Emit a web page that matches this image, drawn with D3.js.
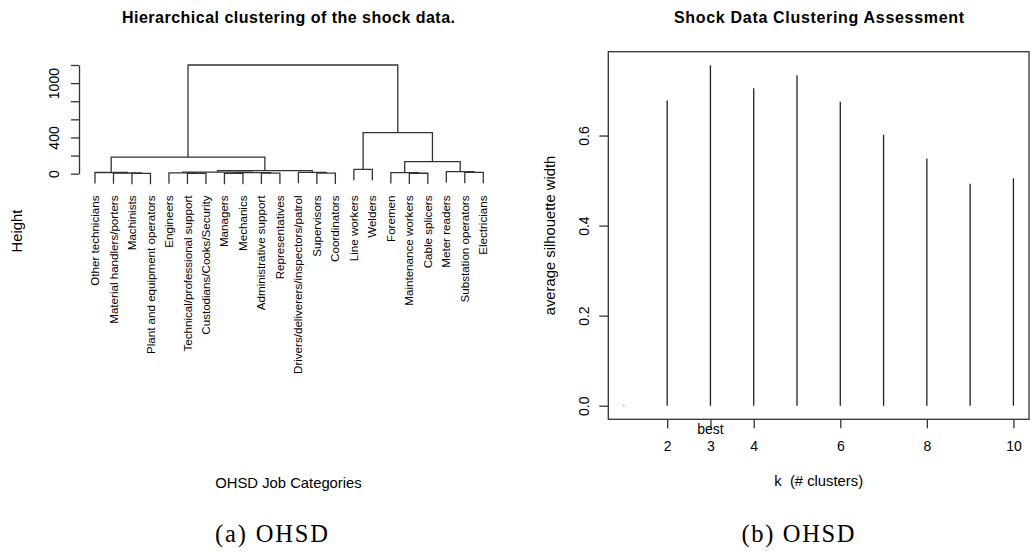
<!DOCTYPE html>
<html>
<head>
<meta charset="utf-8">
<script src="https://cdn.jsdelivr.net/npm/d3@7"></script>
<style>
  html, body { margin: 0; padding: 0; background: #fff; }
  svg { display: block; font-family: "Liberation Sans", Arial, Helvetica, sans-serif; }
</style>
</head>
<body>
<svg id="fig" width="1031" height="552"></svg>
<script>
// ---- Dendrogram data (leaves in plotted order) ----
const leafLabels = [
  "Other technicians", "Material handlers/porters", "Machinists",
  "Plant and equipment operators", "Engineers", "Technical/professional support",
  "Custodians/Cooks/Security", "Managers", "Mechanics", "Administrative support",
  "Representatives", "Drivers/deliverers/inspectors/patrol", "Supervisors",
  "Coordinators", "Line workers", "Welders", "Foremen", "Maintenance workers",
  "Cable splicers", "Meter readers", "Substation operators", "Electricians"
];
// hclust-style merge table: negative = leaf (1-based), positive = earlier merge step
const mergeLeft   = [-3, -2, -1, -6, -5, -8, -10, 6, 5, -13, -12, 9, 3, -15, -18, -17, -21, -20, 16, 14, 13];
const mergeRight  = [-4,  1,  2, -7,  4, -9, -11, 7, 8, -14,  10, 11, 12, -16, -19, 15, -22, 17, 18, 19, 20];
const mergeHeight = [4, 8, 13, 5, 9, 4, 6, 12, 18, 6, 14, 35, 184, 48, 5, 12, 14, 22, 133, 453, 1200];
const heightTicks = [0, 200, 400, 600, 800, 1000, 1200];
const heightTickLabels = [0, 400, 1000];

// ---- Silhouette assessment data ----
const kValues = [1, 2, 3, 4, 5, 6, 7, 8, 9, 10];
const avgSilWidth = [0, 0.678, 0.756, 0.705, 0.734, 0.675, 0.602, 0.549, 0.493, 0.505];
const kTicks = [2, 3, 4, 6, 8, 10];
const silTicks = [0, 0.2, 0.4, 0.6];
const bestK = 3;

const svg = d3.select("#fig");
const INK = "#333";
const AX_FS = 14;     // tick labels
const LAB_FS = 14.8;  // axis titles

// ================= Left panel: dendrogram =================
const left = svg.append("g");
const xL = d3.scaleLinear().domain([1, leafLabels.length]).range([95, 483.3]);
const yL = d3.scaleLinear().domain([0, 1200]).range([173.7, 65]);
const hang = 0.1 * d3.max(mergeHeight);

// position of every merge node
const nodeX = [];
function childX(c) { return c < 0 ? xL(-c) : nodeX[c - 1]; }
mergeLeft.forEach((l, i) => {
  nodeX[i] = (childX(l) + childX(mergeRight[i])) / 2;
});

const leafEnd = {};
mergeLeft.forEach((l, i) => {
  const r = mergeRight[i], h = mergeHeight[i];
  const bottom = c => c < 0 ? h - hang : mergeHeight[c - 1];
  if (l < 0) leafEnd[-l] = h - hang;
  if (r < 0) leafEnd[-r] = h - hang;
  const p = d3.path();
  p.moveTo(childX(l), yL(bottom(l)));
  p.lineTo(childX(l), yL(h));
  p.lineTo(childX(r), yL(h));
  p.lineTo(childX(r), yL(bottom(r)));
  left.append("path").attr("d", p.toString())
    .attr("fill", "none").attr("stroke", INK).attr("stroke-width", 1.3);
});

// leaf labels, rotated, ending just below the leaves
left.append("g").selectAll("text").data(leafLabels).join("text")
  .attr("transform", (d, i) => `translate(${xL(i + 1)},195.5) rotate(-90)`)
  .attr("dy", "0.35em")
  .attr("text-anchor", "end")
  .attr("font-size", 11.6)
  .attr("fill", "#000")
  .text(d => d);

// height axis
const axL = left.append("g").attr("transform", "translate(79,0)")
  .call(d3.axisLeft(yL).tickValues(heightTicks).tickSize(8).tickSizeOuter(0)
    .tickFormat(d => heightTickLabels.includes(d) ? d : ""));
axL.select(".domain").attr("stroke", INK).attr("stroke-width", 1.3);
axL.selectAll(".tick line").attr("stroke", INK).attr("stroke-width", 1.3);
axL.selectAll(".tick text")
  .attr("transform", "rotate(-90)").attr("x", 0).attr("y", -20).attr("dy", 0)
  .attr("text-anchor", "middle").attr("font-size", AX_FS).attr("fill", "#000")
  .attr("font-family", null);

left.append("text")
  .attr("transform", "translate(22,231) rotate(-90)")
  .attr("text-anchor", "middle").attr("font-size", LAB_FS).text("Height");
left.append("text")
  .attr("x", 288.5).attr("y", 488.3).attr("text-anchor", "middle")
  .attr("font-size", LAB_FS).text("OHSD Job Categories");
left.append("text")
  .attr("x", 288.5).attr("y", 22.7).attr("text-anchor", "middle")
  .attr("font-size", 16).attr("font-weight", "bold")
  .attr("textLength", 333).attr("lengthAdjust", "spacing")
  .text("Hierarchical clustering of the shock data.");

// ================= Right panel: silhouette widths =================
const right = svg.append("g");
const xR = d3.scaleLinear()
  .domain([kValues[0] - 0.04 * (kValues[kValues.length - 1] - kValues[0]),
           kValues[kValues.length - 1] + 0.04 * (kValues[kValues.length - 1] - kValues[0])])
  .range([608.3, 1029]);
const mSil = d3.max(avgSilWidth);
const yR = d3.scaleLinear().domain([-0.04 * mSil, 1.04 * mSil]).range([419.3, 51.7]);

// vertical "h"-type lines
right.append("g").selectAll("line").data(kValues).join("line")
  .attr("x1", d => xR(d)).attr("x2", d => xR(d))
  .attr("y1", yR(0)).attr("y2", (d, i) => yR(avgSilWidth[i]))
  .attr("stroke", (d, i) => avgSilWidth[i] === 0 ? "#999" : "#222")
  .attr("stroke-width", 1.3)
  .attr("stroke-linecap", (d, i) => avgSilWidth[i] === 0 ? "square" : "butt");

// plot box
right.append("rect")
  .attr("x", xR.range()[0]).attr("y", yR.range()[1])
  .attr("width", xR.range()[1] - xR.range()[0])
  .attr("height", yR.range()[0] - yR.range()[1])
  .attr("fill", "none").attr("stroke", INK).attr("stroke-width", 1.3);

// y axis
const axRY = right.append("g").attr("transform", `translate(${xR.range()[0]},0)`)
  .call(d3.axisLeft(yR).tickValues(silTicks).tickSize(9).tickFormat(d3.format(".1f")));
axRY.select(".domain").remove();
axRY.selectAll(".tick line").attr("stroke", INK).attr("stroke-width", 1.3);
axRY.selectAll(".tick text")
  .attr("transform", "rotate(-90)").attr("x", 0).attr("y", -19).attr("dy", 0)
  .attr("text-anchor", "middle").attr("font-size", AX_FS).attr("fill", "#000")
  .attr("font-family", null);

// x axis
const axRX = right.append("g").attr("transform", `translate(0,${yR.range()[0]})`)
  .call(d3.axisBottom(xR).tickValues(kTicks).tickSize(9).tickFormat(d3.format("d")));
axRX.select(".domain").remove();
axRX.selectAll(".tick line").attr("stroke", INK).attr("stroke-width", 1.3);
axRX.selectAll(".tick text")
  .attr("y", 32).attr("dy", 0).attr("font-size", AX_FS).attr("fill", "#000")
  .attr("font-family", null);

right.append("text")
  .attr("x", xR(bestK)).attr("y", 434).attr("text-anchor", "middle")
  .attr("font-size", AX_FS).text("best");

right.append("text")
  .attr("transform", "translate(555,235.5) rotate(-90)")
  .attr("text-anchor", "middle").attr("font-size", LAB_FS)
  .text("average silhouette width");
right.append("text")
  .attr("x", 818.7).attr("y", 486).attr("text-anchor", "middle")
  .attr("font-size", LAB_FS).style("white-space", "pre")
  .text("k  (# clusters)");
right.append("text")
  .attr("x", 819).attr("y", 23).attr("text-anchor", "middle")
  .attr("font-size", 16).attr("font-weight", "bold")
  .attr("textLength", 290).attr("lengthAdjust", "spacing")
  .text("Shock Data Clustering Assessment");

// ================= Sub-figure captions =================
const captions = [{t: "(a) OHSD", x: 271.5}, {t: "(b) OHSD", x: 798}];
svg.append("g").selectAll("text").data(captions).join("text")
  .attr("x", d => d.x).attr("y", 541.5).attr("text-anchor", "middle")
  .attr("font-family", "'Liberation Serif', 'Times New Roman', serif")
  .attr("font-size", 24.5)
  .attr("textLength", 113).attr("lengthAdjust", "spacing")
  .text(d => d.t);
</script>
</body>
</html>
